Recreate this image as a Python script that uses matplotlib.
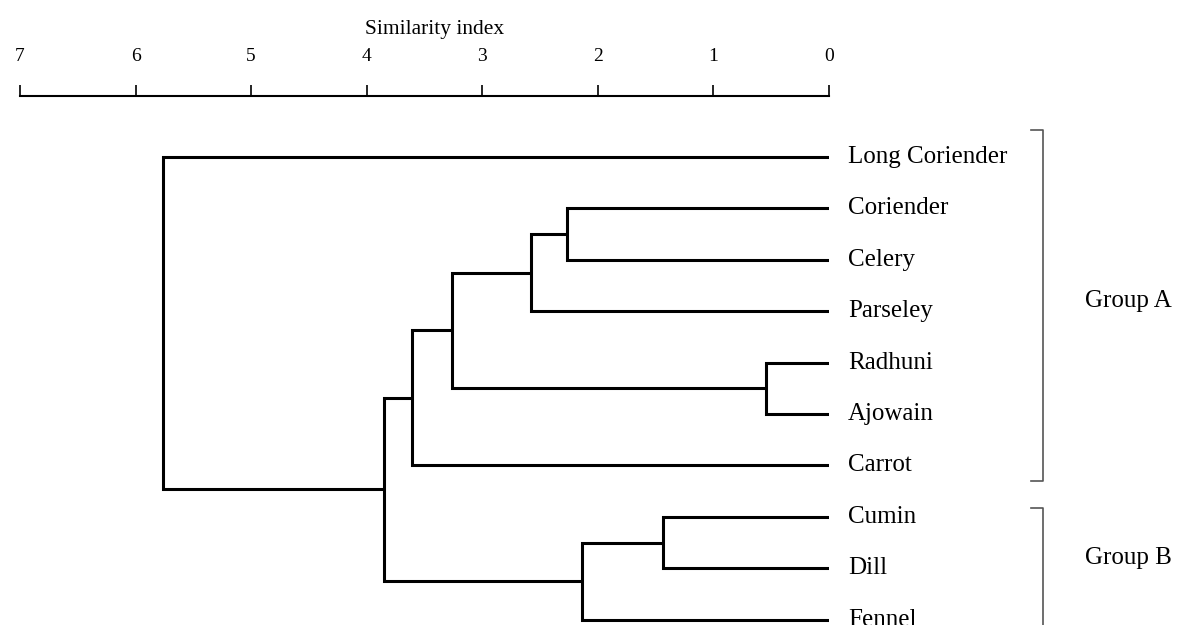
import matplotlib.pyplot as plt
import matplotlib.transforms as mtransforms

plt.rcParams['font.family'] = ['Liberation Serif', 'DejaVu Serif']

# leaves, top to bottom
leaves = ["Long Coriender", "Coriender", "Celery", "Parseley", "Radhuni",
          "Ajowain", "Carrot", "Cumin", "Dill", "Fennel"]

# merges: new cluster ids start at 10 (scipy style)
merge_a = [1, 10, 4, 11, 13, 7, 15, 14, 0]
merge_b = [2, 3, 5, 12, 6, 8, 9, 16, 17]
merge_h = [2.27, 2.58, 0.545, 3.26, 3.61, 1.44, 2.14, 3.85, 5.76]

groups = ["Group A", "Group B"]
group_first = [0, 7]
group_last = [6, 9]

fig = plt.figure(figsize=(11.83, 6.25), dpi=100)
ax = fig.add_axes([20 / 1183, 0, 809 / 1183, 1 - 96 / 625])

pos = {i: (0.0, float(i)) for i in range(len(leaves))}
for k, (a, b, h) in enumerate(zip(merge_a, merge_b, merge_h)):
    xa, ya = pos[a]
    xb, yb = pos[b]
    ax.plot([xa, h, h, xb], [ya, ya, yb, yb], color='black', lw=2.2,
            solid_joinstyle='miter', solid_capstyle='butt')
    pos[len(leaves) + k] = (h, (ya + yb) / 2)

ax.set_xlim(7, 0)
ax.set_ylim(9.105, -1.187)

for s in ['left', 'right', 'bottom']:
    ax.spines[s].set_visible(False)
ax.spines['top'].set_linewidth(1.5)
ax.xaxis.tick_top()
ax.xaxis.set_label_position('top')
ax.set_xticks(range(0, 8))
ax.tick_params(axis='x', direction='out', length=8, width=1.2, pad=14,
               labelsize=14)
ax.set_yticks([])
ax.set_xlabel("Similarity index", fontsize=15.5, labelpad=10)
ax.xaxis.set_label_coords(0.513, 1.0 + 62 / 529)

trans = mtransforms.blended_transform_factory(ax.transAxes, ax.transData)
for i, name in enumerate(leaves):
    ax.text(1.0235, i, name, transform=trans, fontsize=18,
            va='center', ha='left')

for g, f, l in zip(groups, group_first, group_last):
    top = f - 0.53 if g == "Group A" else f - 0.17
    bot = l + 0.3 if g == "Group A" else 9.3
    ax.plot([1.25, 1.2645, 1.2645, 1.25], [top, top, bot, bot],
            transform=trans, color='#555555', lw=1.2, clip_on=False)
    ax.text(1.317, (f + l) / 2 - 0.2, g,
            transform=trans, fontsize=18, va='center', ha='left')

fig.savefig("out.png", dpi=100)
